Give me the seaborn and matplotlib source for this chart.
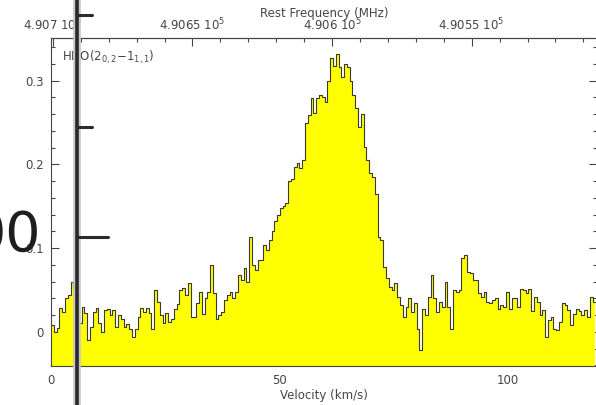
import numpy as np
import pandas as pd
import matplotlib
matplotlib.use("Agg")
import matplotlib.pyplot as plt
import seaborn as sns
from matplotlib.ticker import MultipleLocator, FixedLocator, FuncFormatter
from matplotlib.lines import Line2D

# ---- spectrum: HDO 2(0,2)-1(1,1), antenna temperature per channel ----
V_START = 0.0          # km/s, left edge of first channel
CHANNEL_WIDTH = 0.611  # km/s (1 MHz channels)
REST_FREQ = 490596.6   # MHz
V_SYS = 63.6           # km/s
C_KMS = 299792.458

flux = [
    0.008, 0.000, 0.005, 0.029, 0.024, 0.040, 0.044, 0.060, 0.052, 0.030,
    0.011, 0.030, 0.023, -0.010, 0.006, 0.024, 0.029, 0.011, 0.000, 0.026,
    0.028, 0.020, 0.026, 0.006, 0.020, 0.016, 0.006, 0.010, 0.003, -0.006,
    0.004, 0.018, 0.029, 0.024, 0.029, 0.023, 0.003, 0.050, 0.036, 0.020,
    0.011, 0.023, 0.012, 0.016, 0.028, 0.034, 0.050, 0.052, 0.044, 0.058,
    0.018, 0.018, 0.035, 0.048, 0.022, 0.040, 0.048, 0.080, 0.046, 0.016,
    0.020, 0.024, 0.038, 0.044, 0.048, 0.040, 0.048, 0.068, 0.062, 0.076,
    0.060, 0.113, 0.080, 0.074, 0.086, 0.086, 0.104, 0.098, 0.110, 0.120,
    0.132, 0.140, 0.148, 0.151, 0.154, 0.180, 0.183, 0.197, 0.202, 0.196,
    0.205, 0.250, 0.259, 0.279, 0.262, 0.279, 0.283, 0.280, 0.275, 0.300,
    0.327, 0.318, 0.332, 0.316, 0.304, 0.320, 0.316, 0.300, 0.283, 0.268,
    0.245, 0.260, 0.221, 0.205, 0.190, 0.185, 0.165, 0.113, 0.110, 0.078,
    0.065, 0.054, 0.050, 0.058, 0.042, 0.032, 0.018, 0.030, 0.040, 0.024,
    0.035, 0.004, -0.022, 0.028, 0.020, 0.042, 0.068, 0.040, 0.024, 0.036,
    0.030, 0.060, 0.030, 0.004, 0.050, 0.048, 0.050, 0.088, 0.092, 0.072,
    0.070, 0.062, 0.062, 0.046, 0.042, 0.048, 0.036, 0.035, 0.038, 0.040,
    0.027, 0.032, 0.030, 0.048, 0.028, 0.040, 0.040, 0.030, 0.051, 0.050,
    0.046, 0.051, 0.025, 0.042, 0.036, 0.020, 0.026, -0.006, 0.014, 0.018,
    0.004, 0.002, 0.012, 0.035, 0.032, 0.026, 0.008, 0.022, 0.027, 0.025,
    0.020, 0.026, 0.018, 0.042, 0.036,
]

velocity_ticks = [0, 50, 100]
flux_ticks = [0, 0.1, 0.2, 0.3]
freq_ticks = [490700, 490650, 490600, 490550]

line_label = "HDO(2$_{0,2}$\u22121$_{1,1}$)"
x_label = "Velocity (km/s)"
top_label = "Rest Frequency (MHz)"

# channel edges for a histogram-style spectrum
n = len(flux)
edges = V_START + CHANNEL_WIDTH * np.arange(n + 1)
levels = np.append(flux, flux[-1])
df = pd.DataFrame({"velocity": edges, "flux": levels})

sns.set_style("ticks")
plt.rcParams["font.family"] = ["DejaVu Sans"]
plt.rcParams["font.size"] = 8.5
plt.rcParams["mathtext.fontset"] = "dejavusans"

INK = "#454545"

fig = plt.figure(figsize=(5.96, 4.05), dpi=100)
W, H = 596, 405
ax = fig.add_axes([51 / W, 39 / H, (596.5 - 51) / W, (366 - 38) / H])

ax.fill_between(df["velocity"], df["flux"], -1, step="post",
                color="#ffff00", lw=0, zorder=1)
sns.lineplot(data=df, x="velocity", y="flux", ax=ax, drawstyle="steps-post",
             estimator=None, sort=False, color="#3a3a30", lw=0.8, zorder=2)

ax.set_xlim(0, 119.4)
ax.set_ylim(-0.0406, 0.351)

ax.xaxis.set_major_locator(FixedLocator(velocity_ticks))
ax.xaxis.set_minor_locator(MultipleLocator(10))
ax.yaxis.set_major_locator(FixedLocator(flux_ticks))
ax.yaxis.set_minor_locator(MultipleLocator(0.02))
ax.yaxis.set_major_formatter(FuncFormatter(lambda y, _: f"{y:g}"))
ax.xaxis.set_major_formatter(FuncFormatter(lambda x, _: f"{x:g}"))

ax.tick_params(axis="x", which="both", direction="in", top=False, bottom=True,
               color=INK, labelcolor=INK, labelsize=8.5, pad=6)
ax.tick_params(axis="y", which="both", direction="in", left=True, right=True,
               color=INK, labelcolor=INK, labelsize=8.5, pad=5)
ax.tick_params(which="major", length=6, width=0.8)
ax.tick_params(which="minor", length=3, width=0.8)
for s in ax.spines.values():
    s.set_color(INK)
    s.set_linewidth(0.8)

ax.set_xlabel(x_label, color=INK, fontsize=8.5, labelpad=1)
ax.set_ylabel("")


def vel_to_freq(v):
    return REST_FREQ * (1 - (np.asarray(v) - V_SYS) / C_KMS)


def freq_to_vel(f):
    return V_SYS + (1 - np.asarray(f) / REST_FREQ) * C_KMS


sec = ax.secondary_xaxis("top", functions=(vel_to_freq, freq_to_vel))
sec.xaxis.set_major_locator(FixedLocator(freq_ticks))
sec.xaxis.set_minor_locator(MultipleLocator(10))
sec.xaxis.set_major_formatter(
    FuncFormatter(lambda f, _: f"{f / 1e5:g} 10$^{{5}}$"))
sec.tick_params(which="both", direction="in", color=INK, labelcolor=INK,
                labelsize=8.5, pad=3.5)
sec.tick_params(which="major", length=6, width=0.8)
sec.tick_params(which="minor", length=3, width=0.8)
sec.spines["top"].set_color(INK)
sec.spines["top"].set_linewidth(0.8)
sec.set_xlabel(top_label, color=INK, fontsize=8.5, labelpad=0)

ax.text(62 / W, 1 - 57 / H, line_label, transform=fig.transFigure,
        ha="left", va="center", fontsize=8.5, color=INK, zorder=3)

# dark vertical bar with side ticks drawn across the whole figure
bx = 77 / W
fig.add_artist(Line2D([bx, bx], [0, 1], transform=fig.transFigure,
                      color="#c8c8c8", lw=5.5, zorder=20))
fig.add_artist(Line2D([bx, bx], [0, 1], transform=fig.transFigure,
                      color="#2a2a2a", lw=2.6, zorder=21))
for yy, x_end in [(15, 92), (127, 92), (237, 108)]:
    fig.add_artist(Line2D([bx, x_end / W], [1 - yy / H, 1 - yy / H],
                          transform=fig.transFigure, color="#2a2a2a",
                          lw=2.2, zorder=21))
fig.text(41 / W, 1 - 236 / H, "00", ha="right", va="center", fontsize=40,
         color="#1e1e1e", zorder=22)

fig.savefig("out.png", dpi=100)
